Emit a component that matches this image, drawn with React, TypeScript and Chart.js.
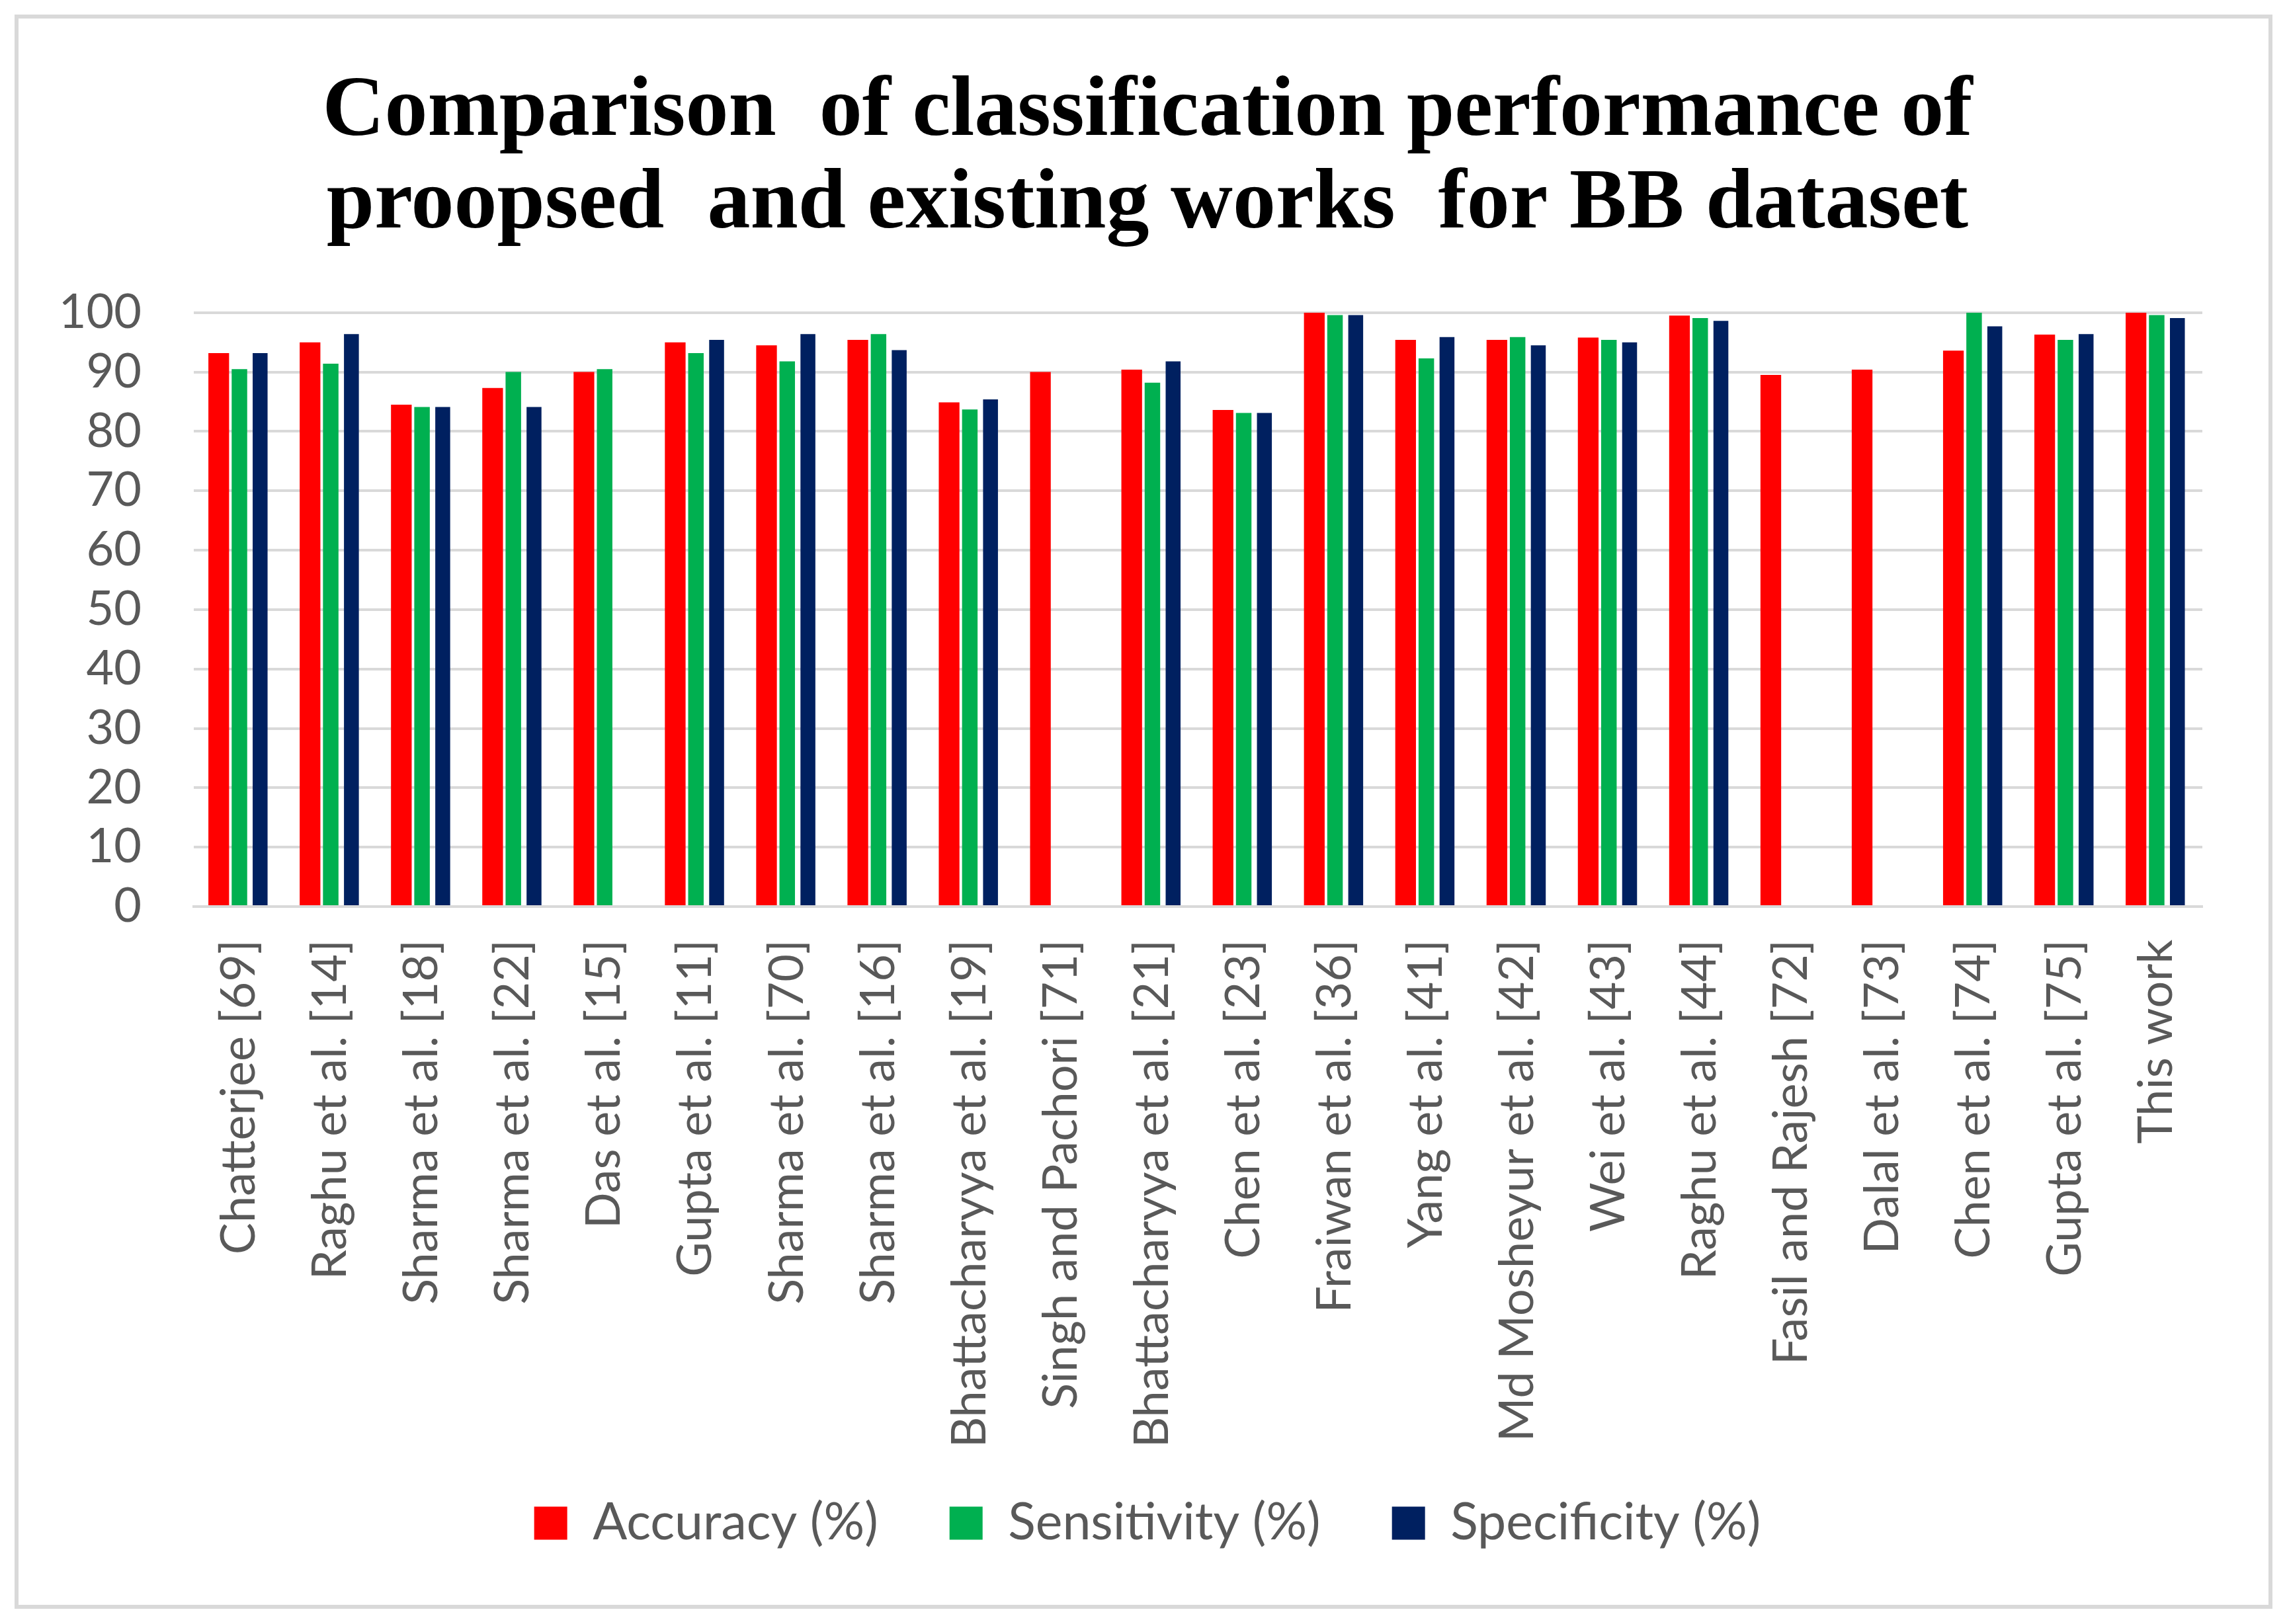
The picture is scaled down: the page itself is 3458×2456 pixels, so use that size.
import React, { useEffect, useRef } from "react";
import { Chart, registerables } from "chart.js";

Chart.register(...registerables);

const categories = [
  "Chatterjee [69]",
  "Raghu et al. [14]",
  "Sharma et al. [18]",
  "Sharma et al. [22]",
  "Das et al. [15]",
  "Gupta et al. [11]",
  "Sharma et al. [70]",
  "Sharma et al. [16]",
  "Bhattacharyya et al. [19]",
  "Singh and Pachori [71]",
  "Bhattacharyya et al. [21]",
  "Chen et al. [23]",
  "Fraiwan et al. [36]",
  "Yang et al. [41]",
  "Md Mosheyur et al. [42]",
  "Wei et al. [43]",
  "Raghu et al. [44]",
  "Fasil and Rajesh [72]",
  "Dalal et al. [73]",
  "Chen et al. [74]",
  "Gupta et al. [75]",
  "This work",
];

const accuracy = [93.2, 95.0, 84.5, 87.3, 90.0, 95.0, 94.5, 95.4, 84.9, 90.0, 90.4, 83.6, 100, 95.4, 95.4, 95.8, 99.5, 89.5, 90.4, 93.6, 96.3, 100];
const sensitivity = [90.5, 91.4, 84.1, 90.0, 90.5, 93.2, 91.8, 96.4, 83.7, null, 88.2, 83.1, 99.6, 92.3, 95.9, 95.4, 99.1, null, null, 100, 95.4, 99.6];
const specificity = [93.2, 96.4, 84.1, 84.1, null, 95.4, 96.4, 93.7, 85.4, null, 91.8, 83.1, 99.6, 95.9, 94.5, 95.0, 98.6, null, null, 97.7, 96.4, 99.1];

const seriesNames = ["Accuracy (%)", "Sensitivity (%)", "Specificity (%)"];
const seriesColors = ["#FF0000", "#00B050", "#002060"];
const titleLines = [
  "Comparison  of classification performance of",
  "proopsed  and existing works  for BB dataset",
];
const yTicks = [0, 10, 20, 30, 40, 50, 60, 70, 80, 90, 100];

export default function App() {
  const canvasRef = useRef<HTMLCanvasElement | null>(null);

  useEffect(() => {
    const canvas = canvasRef.current;
    if (!canvas) return;
    const chart = new Chart(canvas, {
      type: "bar",
      data: {
        labels: categories,
        datasets: [
          {
            label: seriesNames[0],
            data: accuracy,
            backgroundColor: seriesColors[0],
            barPercentage: 1.0,
            categoryPercentage: 0.68,
          },
          {
            label: seriesNames[1],
            data: sensitivity,
            backgroundColor: seriesColors[1],
            barPercentage: 0.75,
            categoryPercentage: 0.68,
          },
          {
            label: seriesNames[2],
            data: specificity,
            backgroundColor: seriesColors[2],
            barPercentage: 0.72,
            categoryPercentage: 0.68,
          },
        ],
      },
      options: {
        animation: false,
        responsive: true,
        maintainAspectRatio: false,
        devicePixelRatio: 1,
        layout: { padding: { top: 0, left: 140, right: 128, bottom: 104 } },
        plugins: {
          title: {
            display: true,
            text: titleLines,
            color: "#000000",
            font: { family: "'Liberation Serif', 'DejaVu Serif', serif", size: 130, weight: "bold", lineHeight: 1.08 },
            padding: { top: 100, bottom: 92 },
          },
          legend: {
            display: true,
            position: "bottom",
            labels: {
              color: "#595959",
              font: { family: "Lato, 'Open Sans', sans-serif", size: 77 },
              boxWidth: 50,
              boxHeight: 50,
              padding: 108,
            },
          },
          tooltip: { enabled: false },
        },
        scales: {
          x: {
            grid: { display: false, drawTicks: false },
            border: { display: true, color: "#d9d9d9", width: 4 },
            ticks: {
              color: "#595959",
              font: { family: "Lato, 'Open Sans', sans-serif", size: 72 },
              minRotation: 90,
              maxRotation: 90,
              autoSkip: false,
              padding: 50,
            },
            afterFit: (s: any) => {
              s.height = 786;
              s._computeLabelArea = () => undefined;
            },
          },
          y: {
            min: 0,
            max: 100,
            afterBuildTicks: (s: any) => {
              s.ticks = yTicks.map((v) => ({ value: v }));
            },
            grid: { color: "#d9d9d9", lineWidth: 4, drawTicks: false },
            border: { display: false },
            ticks: {
              color: "#595959",
              font: { family: "Lato, 'Open Sans', sans-serif", size: 72 },
              padding: 79,
            },
            afterFit: (s: any) => {
              s.width = 153;
              s._computeLabelArea = () => undefined;
            },
          },
        },
      },
    });
    return () => chart.destroy();
  }, []);

  return (
    <div
      style={{
        position: "fixed",
        left: 0,
        top: 0,
        width: 3458,
        height: 2456,
        background: "#ffffff",
        overflow: "hidden",
      }}
    >
      <div
        style={{
          position: "absolute",
          left: 22,
          top: 22,
          width: 3414,
          height: 2411,
          border: "6px solid #d9d9d9",
          boxSizing: "border-box",
        }}
      />
      <div style={{ position: "absolute", left: 0, top: 0, width: 3458, height: 2456 }}>
        <canvas ref={canvasRef} />
      </div>
    </div>
  );
}
